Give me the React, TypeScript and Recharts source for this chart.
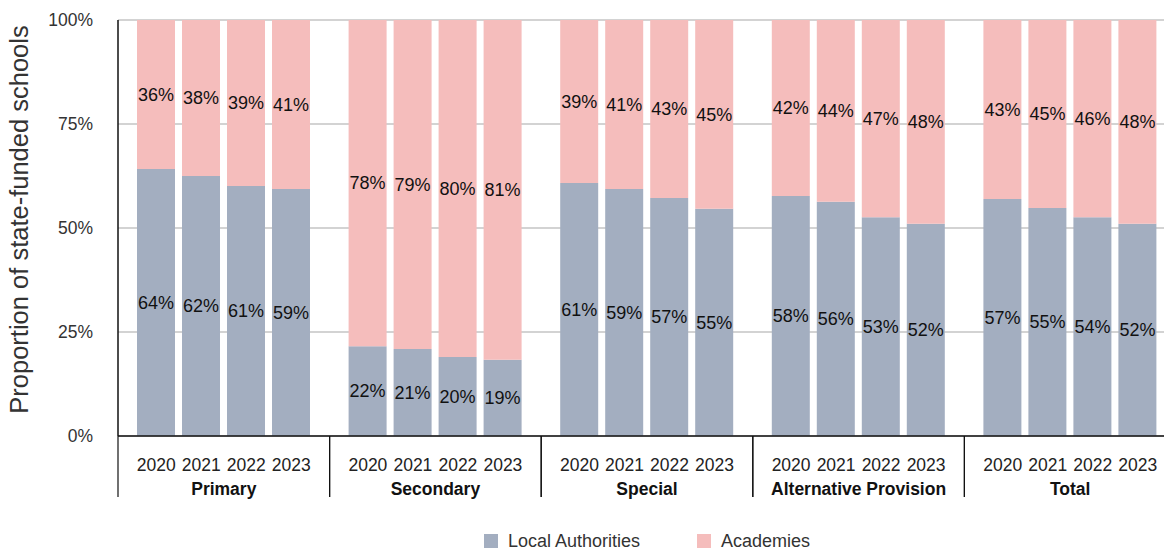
import React from "react";
import {
  BarChart,
  Bar,
  XAxis,
  YAxis,
  CartesianGrid,
  Legend,
  LabelList,
} from "recharts";

const FONT = "'Liberation Sans', Arial, Helvetica, sans-serif";

const groups = ["Primary", "Secondary", "Special", "Alternative Provision", "Total"];
const years = ["2020", "2021", "2022", "2023"];

// Local Authorities share (%) per school type, one array per year
const la2020 = [64.2, 21.6, 60.8, 57.7, 57.0];
const la2021 = [62.5, 20.9, 59.4, 56.3, 54.8];
const la2022 = [60.1, 19.0, 57.2, 52.6, 52.6];
const la2023 = [59.4, 18.3, 54.6, 51.0, 51.0];

// Academies share (%)
const ac2020 = [35.8, 78.4, 39.2, 42.3, 43.0];
const ac2021 = [37.5, 79.1, 40.6, 43.7, 45.2];
const ac2022 = [39.9, 81.0, 42.8, 47.4, 47.4];
const ac2023 = [40.6, 81.7, 45.4, 49.0, 49.0];

// printed labels
const laLabel2020 = [64, 22, 61, 58, 57];
const laLabel2021 = [62, 21, 59, 56, 55];
const laLabel2022 = [61, 20, 57, 53, 54];
const laLabel2023 = [59, 19, 55, 52, 52];
const acLabel2020 = [36, 78, 39, 42, 43];
const acLabel2021 = [38, 79, 41, 44, 45];
const acLabel2022 = [39, 80, 43, 47, 46];
const acLabel2023 = [41, 81, 45, 48, 48];

const yTicks = [0, 25, 50, 75, 100];

const LA_COLOR = "#a3aec0";
const AC_COLOR = "#f5bdbc";

const CHART_W = 1180;
const CHART_H = 556;
const MARGIN = { top: 20, right: 4, left: 0, bottom: 0 };
const Y_AXIS_W = 118;
const BAND = (CHART_W - MARGIN.right - MARGIN.left - Y_AXIS_W) / groups.length;
const BAR_SIZE = 38;
const BAR_GAP = 7;

const laByYear = [la2020, la2021, la2022, la2023];
const acByYear = [ac2020, ac2021, ac2022, ac2023];
const laLabelByYear = [laLabel2020, laLabel2021, laLabel2022, laLabel2023];
const acLabelByYear = [acLabel2020, acLabel2021, acLabel2022, acLabel2023];

const data = groups.map((group, g) => {
  const row: Record<string, string | number> = { group };
  years.forEach((yr, i) => {
    row[`la${yr}`] = laByYear[i][g];
    row[`ac${yr}`] = acByYear[i][g];
    row[`laLabel${yr}`] = `${laLabelByYear[i][g]}%`;
    row[`acLabel${yr}`] = `${acLabelByYear[i][g]}%`;
  });
  return row;
});

function GroupTick(props: any) {
  const { x, y, payload } = props;
  const step = BAR_SIZE + BAR_GAP;
  return (
    <g>
      <line x1={x - BAND / 2} x2={x - BAND / 2} y1={y} y2={y + 61} stroke="#111" strokeWidth={1.2} />
      <line x1={x + BAND / 2} x2={x + BAND / 2} y1={y} y2={y + 61} stroke="#111" strokeWidth={1.2} />
      {years.map((yr, i) => (
        <text
          key={yr}
          x={x + (i - 1.5) * step}
          y={y + 34.5}
          textAnchor="middle"
          fontSize={17.5}
          fill="#222"
          fontFamily={FONT}
        >
          {yr}
        </text>
      ))}
      <text
        x={x}
        y={y + 59}
        textAnchor="middle"
        fontSize={17.5}
        fontWeight="bold"
        fill="#111"
        fontFamily={FONT}
      >
        {payload.value}
      </text>
    </g>
  );
}

function LegendContent() {
  const item = (color: string, label: string) => (
    <div style={{ display: "flex", alignItems: "center" }}>
      <span style={{ width: 14, height: 14, background: color, display: "inline-block", marginRight: 10 }} />
      <span>{label}</span>
    </div>
  );
  return (
    <div
      style={{
        marginLeft: Y_AXIS_W,
        height: 30,
        display: "flex",
        justifyContent: "center",
        alignItems: "center",
        gap: 57,
        fontFamily: FONT,
        fontSize: 18,
        color: "#333",
      }}
    >
      {item(LA_COLOR, "Local Authorities")}
      {item(AC_COLOR, "Academies")}
    </div>
  );
}

export default function App() {
  return (
    <div
      style={{
        position: "absolute",
        left: 0,
        top: 0,
        width: 1164,
        height: 549,
        overflow: "hidden",
        background: "#fff",
      }}
    >
      <BarChart
        width={CHART_W}
        height={CHART_H}
        data={data}
        margin={MARGIN}
        barSize={BAR_SIZE}
        barGap={BAR_GAP}
      >
        <CartesianGrid vertical={false} stroke="#c4c4c4" strokeWidth={1.5} />
        <XAxis
          dataKey="group"
          interval={0}
          tickLine={false}
          tickSize={0}
          tickMargin={0}
          height={90}
          axisLine={{ stroke: "#111", strokeWidth: 1.5 }}
          tick={<GroupTick />}
        />
        <YAxis
          width={Y_AXIS_W}
          domain={[0, 100]}
          ticks={yTicks}
          tickFormatter={(v: number) => `${v}%`}
          tickLine={false}
          tickSize={0}
          tickMargin={25}
          axisLine={{ stroke: "#111", strokeWidth: 1.5 }}
          tick={{ fill: "#333", fontSize: 17.5, fontFamily: FONT }}
          label={{
            content: () => (
              <text
                transform="translate(28,219.5) rotate(-90)"
                textAnchor="middle"
                fontSize={25.5}
                fill="#333"
                fontFamily={FONT}
              >
                Proportion of state-funded schools
              </text>
            ),
          }}
        />
        <Legend verticalAlign="bottom" layout="horizontal" content={<LegendContent />} />
        {years.flatMap((yr) => [
          <Bar
            key={`la${yr}`}
            dataKey={`la${yr}`}
            stackId={yr}
            fill={LA_COLOR}
            isAnimationActive={false}
          >
            <LabelList
              dataKey={`laLabel${yr}`}
              position="center"
              fill="#111"
              fontSize={18}
              fontFamily={FONT}
            />
          </Bar>,
          <Bar
            key={`ac${yr}`}
            dataKey={`ac${yr}`}
            stackId={yr}
            fill={AC_COLOR}
            isAnimationActive={false}
          >
            <LabelList
              dataKey={`acLabel${yr}`}
              position="center"
              fill="#111"
              fontSize={18}
              fontFamily={FONT}
            />
          </Bar>,
        ])}
      </BarChart>
    </div>
  );
}
